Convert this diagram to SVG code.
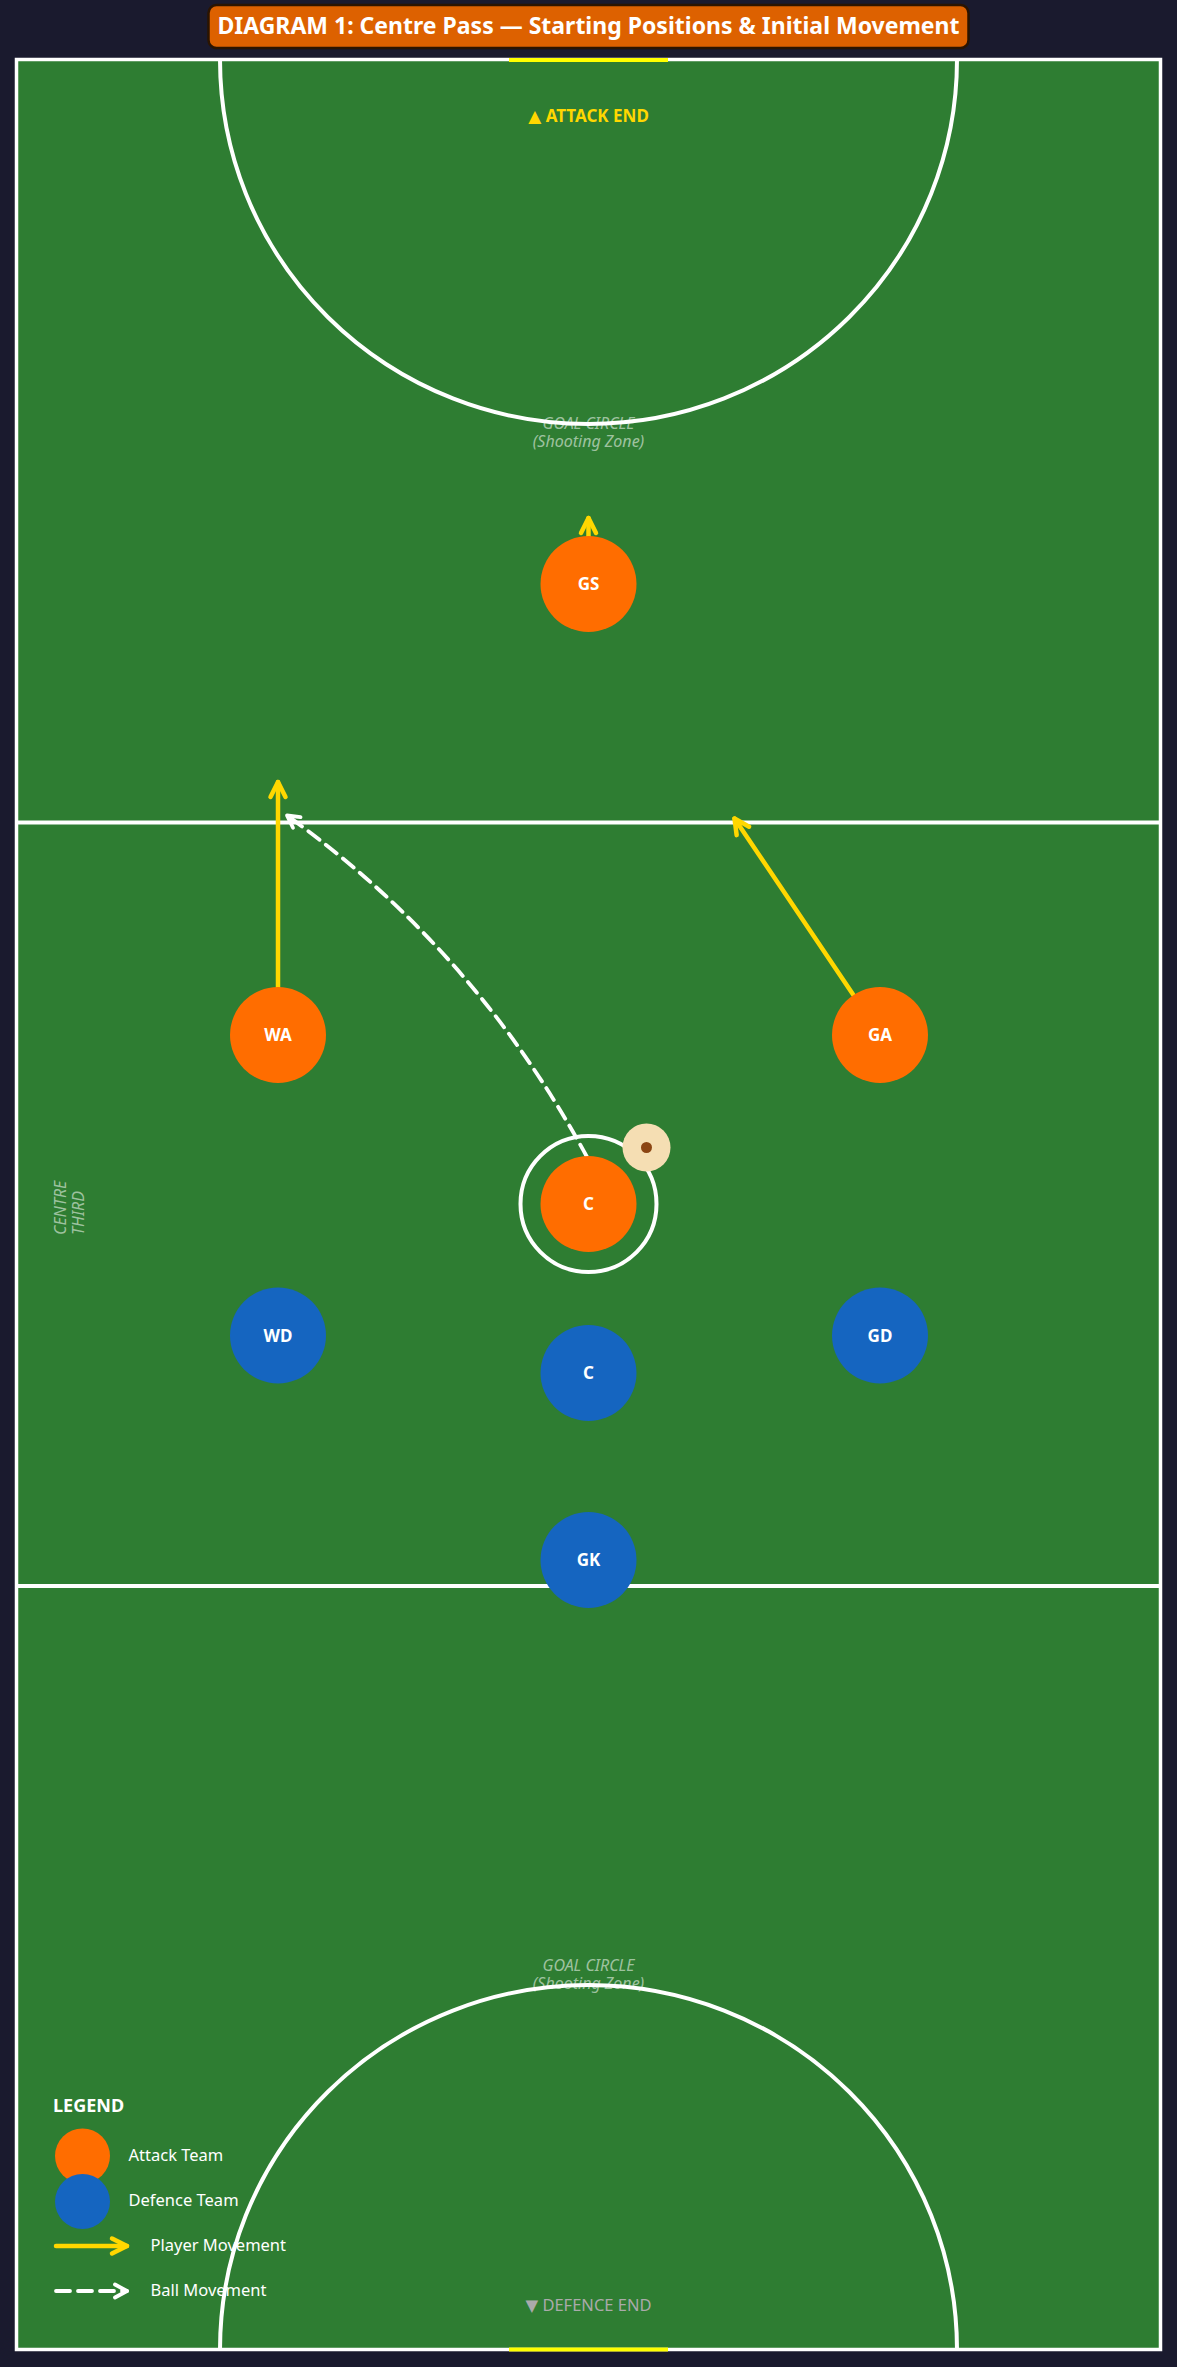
<svg xmlns="http://www.w3.org/2000/svg" width="1177" height="2367" viewBox="0 0 1177 2367">
<style>
.court-line{fill:none;stroke:#FFFFFF;stroke-width:4}
.zone-label{font-family:"Noto Sans","Open Sans",sans-serif;font-style:italic;font-size:16px;fill:#FFFFFF;fill-opacity:0.55}
.player-label{font-family:"Noto Sans","Open Sans",sans-serif;font-weight:bold;font-size:17px;fill:#FFFFFF;text-anchor:middle}
.attack{fill:#FF6D00}
.defence{fill:#1565C0}
.move{fill:none;stroke:#FFD700;stroke-width:4.5;stroke-linecap:round}
.ball-move{fill:none;stroke:#FFFFFF;stroke-width:3.8;stroke-linecap:round;stroke-dasharray:14 8}
.legend-text{font-family:"Noto Sans","Open Sans",sans-serif;font-size:16.5px;fill:#FFFFFF}
</style>
<defs>
<marker id="arrowY" markerUnits="userSpaceOnUse" viewBox="-20 -15 30 30" markerWidth="30" markerHeight="30" refX="0" refY="0" orient="auto" overflow="visible">
<path d="M-15,-7.5 L0,0 L-15,7.5" fill="none" stroke="#FFD700" stroke-width="4.5" stroke-linecap="round" stroke-linejoin="round"/>
</marker>
<marker id="arrowW" markerUnits="userSpaceOnUse" viewBox="-20 -15 30 30" markerWidth="30" markerHeight="30" refX="0" refY="0" orient="auto" overflow="visible">
<path d="M-12,-6.5 L0,0 L-12,6.5" fill="none" stroke="#FFFFFF" stroke-width="3.8" stroke-linecap="round" stroke-linejoin="round"/>
</marker>
</defs>
<rect x="0" y="0" width="1177" height="2367" fill="#1A1A2E"/>
<g id="title">
<rect x="208.5" y="5" width="760" height="43" rx="8" fill="#DD6100" stroke="#2B1400" stroke-width="2.5"/>
<text x="588.5" y="34" font-family="'Noto Sans','Open Sans',sans-serif" font-weight="bold" font-size="23" fill="#FFFFFF" text-anchor="middle">DIAGRAM 1: Centre Pass — Starting Positions &amp; Initial Movement</text>
</g>
<g id="court">
<rect x="16.5" y="59.5" width="1144" height="2290" fill="#2E7D32" stroke="#FFFFFF" stroke-width="3.5"/>
<line class="court-line" x1="16.5" y1="822.5" x2="1160.5" y2="822.5"/>
<line class="court-line" x1="16.5" y1="1586" x2="1160.5" y2="1586"/>
<path class="court-line" d="M220,59.5 A368.5,364.5 0 0 0 957,59.5"/>
<path class="court-line" d="M220,2349.5 A368.5,364.5 0 0 1 957,2349.5"/>
<rect x="509" y="58" width="159" height="4" fill="#FFFF00"/>
<rect x="509" y="2347.5" width="159" height="4" fill="#FFFF00"/>
<circle cx="588.5" cy="1204" r="68" class="court-line"/>
</g>
<g id="labels">
<text x="588.5" y="122" font-family="'Noto Sans','Open Sans','DejaVu Sans',sans-serif" font-weight="bold" font-size="17" fill="#FFD700" text-anchor="middle">▲ ATTACK END</text>
<text x="588.5" y="2311" font-family="'Noto Sans','Open Sans','DejaVu Sans',sans-serif" font-size="16.5" fill="#AAAAAA" text-anchor="middle">▼ DEFENCE END</text>
<text class="zone-label" x="588.5" y="429" text-anchor="middle">GOAL CIRCLE</text>
<text class="zone-label" x="588.5" y="447" text-anchor="middle">(Shooting Zone)</text>
<text class="zone-label" x="588.5" y="1971" text-anchor="middle">GOAL CIRCLE</text>
<text class="zone-label" x="588.5" y="1989" text-anchor="middle">(Shooting Zone)</text>
<text class="zone-label" transform="translate(66,1235) rotate(-90)">CENTRE</text>
<text class="zone-label" transform="translate(84,1235) rotate(-90)">THIRD</text>
</g>
<g id="connectors">
<line class="move" x1="588.5" y1="537" x2="588.5" y2="518" marker-end="url(#arrowY)"/>
<line class="move" x1="278" y1="988" x2="278" y2="782" marker-end="url(#arrowY)"/>
<line class="move" x1="853.4" y1="995" x2="734.5" y2="818.5" marker-end="url(#arrowY)"/>
<path class="ball-move" d="M587,1157 Q475,950 287,815.5" marker-end="url(#arrowW)"/>
</g>
<g id="player-GS"><circle class="attack" cx="588.5" cy="584" r="48"/><text class="player-label" x="588.5" y="590">GS</text></g>
<g id="player-WA"><circle class="attack" cx="278" cy="1035" r="48"/><text class="player-label" x="278" y="1041">WA</text></g>
<g id="player-GA"><circle class="attack" cx="880" cy="1035" r="48"/><text class="player-label" x="880" y="1041">GA</text></g>
<g id="player-C-attack"><circle class="attack" cx="588.5" cy="1204" r="48"/><text class="player-label" x="588.5" y="1210">C</text></g>
<g id="ball"><circle cx="646.5" cy="1147.5" r="24" fill="#F5DEB3"/><circle cx="646.5" cy="1147.5" r="5.5" fill="#8B4513"/></g>
<g id="player-WD"><circle class="defence" cx="278" cy="1335.5" r="48"/><text class="player-label" x="278" y="1341.5">WD</text></g>
<g id="player-GD"><circle class="defence" cx="880" cy="1335.5" r="48"/><text class="player-label" x="880" y="1341.5">GD</text></g>
<g id="player-C-defence"><circle class="defence" cx="588.5" cy="1373" r="48"/><text class="player-label" x="588.5" y="1379">C</text></g>
<g id="player-GK"><circle class="defence" cx="588.5" cy="1560" r="48"/><text class="player-label" x="588.5" y="1566">GK</text></g>
<g id="legend">
<text x="53" y="2112" font-family="'Noto Sans','Open Sans',sans-serif" font-weight="bold" font-size="18" fill="#FFFFFF">LEGEND</text>
<circle class="attack" cx="82.5" cy="2156" r="27.5"/>
<text class="legend-text" x="128.5" y="2161">Attack Team</text>
<circle class="defence" cx="82.5" cy="2201.5" r="27.5"/>
<text class="legend-text" x="128.5" y="2206">Defence Team</text>
<line class="move" x1="56" y1="2246" x2="127" y2="2246" marker-end="url(#arrowY)"/>
<text class="legend-text" x="150.5" y="2251">Player Movement</text>
<line class="ball-move" x1="56" y1="2291" x2="127" y2="2291" marker-end="url(#arrowW)"/>
<text class="legend-text" x="150.5" y="2296">Ball Movement</text>
</g>
</svg>
